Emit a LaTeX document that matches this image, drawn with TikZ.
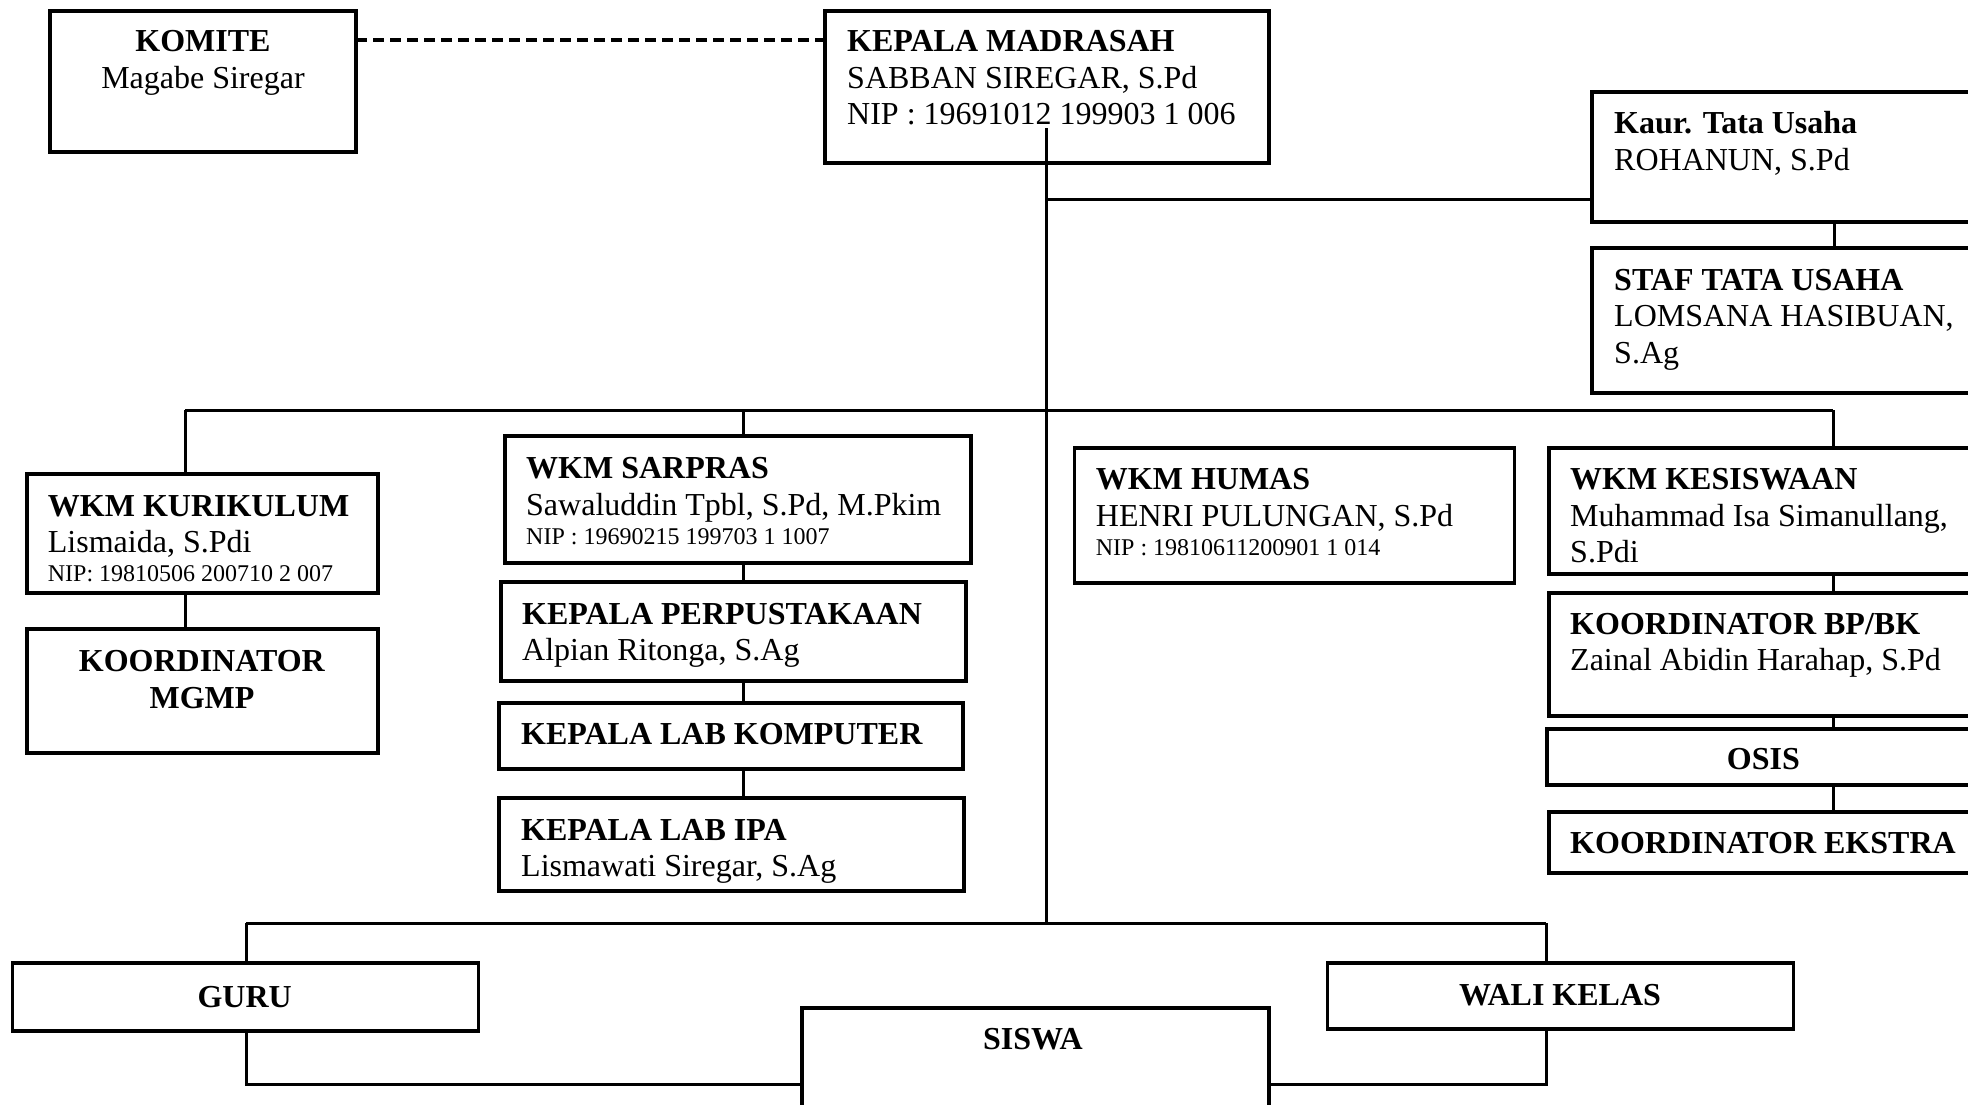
\documentclass[tikz,border=0pt]{standalone}
\usepackage{fontspec}
\setmainfont{Liberation Serif}
\begin{document}
\begin{tikzpicture}[x=1pt,y=-1pt,
  box/.style={draw, line width=3.5pt, inner sep=0pt, outer sep=0pt, anchor=north west},
  conn/.style={line width=3pt},
  dashline/.style={line width=4pt, dash pattern=on 11pt off 6pt},
  txt/.style={inner sep=0pt, anchor=base west, align=left, font=\fontsize{32}{36.4}\selectfont},
  ctxt/.style={inner sep=0pt, anchor=base, align=center, font=\fontsize{32}{36.4}\selectfont},
  small/.style={inner sep=0pt, anchor=base west, font=\fontsize{24}{27}\selectfont}]
\useasboundingbox (0,0) rectangle (1968,1104);
\clip (0,0) rectangle (1968,1104);
% boxes
\node[box, minimum width=306pt, minimum height=141pt] (komite) at (50,11) {};
\node[box, minimum width=444pt, minimum height=152pt] (km) at (825,11) {};
\node[box, minimum width=484pt, minimum height=130pt] (kaur) at (1592,92) {};
\node[box, minimum width=484pt, minimum height=145pt] (staf) at (1592,248) {};
\node[box, minimum width=351pt, minimum height=119pt] (kur) at (27,474) {};
\node[box, minimum width=351pt, minimum height=124pt] (mgmp) at (27,629) {};
\node[box, minimum width=466pt, minimum height=127pt] (sar) at (505,436) {};
\node[box, minimum width=465pt, minimum height=99pt] (perp) at (501,582) {};
\node[box, minimum width=464pt, minimum height=66pt] (lkom) at (499,703) {};
\node[box, minimum width=465pt, minimum height=93pt] (lipa) at (499,798) {};
\node[box, minimum width=440pt, minimum height=135pt] (humas) at (1074.5,448) {};
\node[box, minimum width=568pt, minimum height=126pt] (kes) at (1549,448) {};
\node[box, minimum width=568pt, minimum height=123pt] (bpbk) at (1549,593) {};
\node[box, minimum width=572pt, minimum height=56pt] (osis) at (1547,729) {};
\node[box, minimum width=568pt, minimum height=61pt] (ekstra) at (1549,812) {};
\node[box, minimum width=466pt, minimum height=68pt] (guru) at (12.5,963) {};
\node[box, minimum width=466pt, minimum height=66pt] (wali) at (1327.5,963) {};
\node[box, minimum width=467pt, minimum height=140pt] (siswa) at (802,1008) {};
% texts (base anchor = baseline of the last line)
\node[ctxt] (tkomite) at (203,88.3) {\textbf{KOMITE}\\Magabe Siregar};
\node[txt] (tkm) at (847,124.7) {\textbf{KEPALA MADRASAH}\\SABBAN SIREGAR, S.Pd\\NIP : 19691012 199903 1 006};
\node[txt] (tkaur) at (1614,170) {\textbf{Kaur. Tata Usaha}\\ROHANUN, S.Pd};
\node[txt] (tstaf) at (1614,363) {\textbf{STAF TATA USAHA}\\LOMSANA HASIBUAN,\\S.Ag};
\node[txt] (tkur) at (47.7,552.7) {\textbf{WKM KURIKULUM}\\Lismaida, S.Pdi};
\node[small] (nkur) at (47.7,581.6) {NIP: 19810506 200710 2 007};
\node[ctxt] (tmgmp) at (202,708.3) {\textbf{KOORDINATOR}\\\textbf{MGMP}};
\node[txt] (tsar) at (526,515) {\textbf{WKM SARPRAS}\\Sawaluddin Tpbl, S.Pd, M.Pkim};
\node[small] (nsar) at (526,544) {NIP : 19690215 199703 1 1007};
\node[txt] (tperp) at (522,660.5) {\textbf{KEPALA PERPUSTAKAAN}\\Alpian Ritonga, S.Ag};
\node[txt] (tlkom) at (521,744.5) {\textbf{KEPALA LAB KOMPUTER}};
\node[txt] (tlipa) at (521,876.5) {\textbf{KEPALA LAB IPA}\\Lismawati Siregar, S.Ag};
\node[txt] (thumas) at (1095.7,526.3) {\textbf{WKM HUMAS}\\HENRI PULUNGAN, S.Pd};
\node[small] (nhumas) at (1095.7,555) {NIP : 19810611200901 1 014};
\node[txt] (tkes) at (1570,562.5) {\textbf{WKM KESISWAAN}\\Muhammad Isa Simanullang,\\S.Pdi};
\node[txt] (tbpbk) at (1570,670.7) {\textbf{KOORDINATOR BP/BK}\\Zainal Abidin Harahap, S.Pd};
\node[ctxt] (tosis) at (1763.4,769.8) {\textbf{OSIS}};
\node[txt] (tekstra) at (1570,853.9) {\textbf{KOORDINATOR EKSTRA}};
\node[ctxt] (tguru) at (244.7,1007) {\textbf{GURU}};
\node[ctxt] (twali) at (1560,1005.8) {\textbf{WALI KELAS}};
\node[ctxt] (tsiswa) at (1033,1049.7) {\textbf{SISWA}};
% branch points
\coordinate (ttop) at (1046,128);
\coordinate (tbot) at (1046,923);
\coordinate (hL) at (185,410);
\coordinate (hS) at (743,410);
\coordinate (hR) at (1833,410);
\coordinate (bL) at (246,923);
\coordinate (bR) at (1546,923);
\coordinate (cL) at (246,1084);
\coordinate (cR) at (1546,1084);
% connectors
\draw[dashline] ([yshift=-29pt]komite.north east) coordinate (d1) -- (d1 -| km.west);
\draw[conn] (ttop) -- (tbot);
\draw[conn] (ttop |- 0,199) coordinate (k1) -- (k1 -| kaur.west);
\draw[conn] (kaur) -- (staf);
\draw[conn] (hL) -- (hR);
\draw[conn] (hL) -- (hL |- kur.north);
\draw[conn] (hL |- kur.south) -- (hL |- mgmp.north);
\draw[conn] (hS) -- (hS |- sar.north);
\draw[conn] (hS |- sar.south) -- (hS |- perp.north);
\draw[conn] (hS |- perp.south) -- (hS |- lkom.north);
\draw[conn] (hS |- lkom.south) -- (hS |- lipa.north);
\draw[conn] (hR) -- (hR |- kes.north);
\draw[conn] (kes) -- (bpbk);
\draw[conn] (bpbk) -- (osis);
\draw[conn] (osis) -- (ekstra);
\draw[conn] (bL) -- (bR);
\draw[conn] (bL) -- (bL |- guru.north);
\draw[conn] (bR) -- (bR |- wali.north);
\draw[conn] (bL |- guru.south) -- (cL) -- (cL -| siswa.west);
\draw[conn] (bR |- wali.south) -- (cR) -- (cR -| siswa.east);
\end{tikzpicture}
\end{document}
